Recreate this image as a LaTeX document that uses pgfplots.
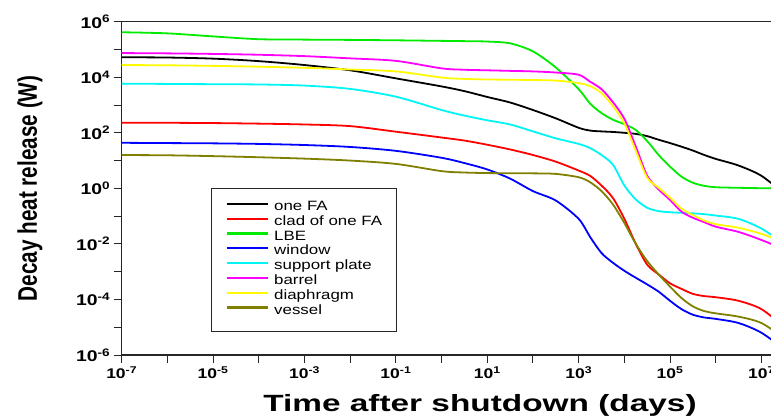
\documentclass[border=0pt]{standalone}
\usepackage{pgfplots}
\usepackage{pgfplotstable}
\pgfplotsset{compat=1.18}
\usepackage{fontspec}
\setmainfont{Liberation Sans}[FakeStretch=1.25]
\newfontfamily\ylabfont{Liberation Sans}

\definecolor{cgreen}{RGB}{0,235,0}
\definecolor{ccyan}{RGB}{0,245,245}
\definecolor{cmag}{RGB}{255,0,255}
\definecolor{cyel}{RGB}{255,250,0}
\definecolor{colive}{RGB}{128,128,0}

\pgfplotstableread{
x        one       clad      lbe       win       sup       bar       dia       ves
1e-7     5.248e4   2.291e2   4.169e5   4.365e1   5.888e3   7.413e4   2.754e4   1.585e1
1e-6     5.129e4   2.291e2   3.802e5   4.266e1   5.754e3   7.244e4   2.692e4   1.549e1
1e-5     4.677e4   2.239e2   2.951e5   4.169e1   5.623e3   6.918e4   2.570e4   1.445e1
1e-4     3.802e4   2.138e2   2.344e5   3.981e1   5.495e3   6.457e4   2.399e4   1.318e1
1e-3     2.754e4   1.995e2   2.265e5   3.631e1   5.012e3   5.754e4   2.188e4   1.175e1
1e-2     1.778e4   1.738e2   2.213e5   3.090e1   3.802e3   4.786e4   1.905e4   1.0e1
1e-1     9.120e3   1.096e2   2.138e5   2.239e1   1.995e3   3.890e4   1.622e4   7.586
1        4.677e3   6.761e1   2.042e5   1.259e1   6.607e2   2.089e4   9.772e3   4.169
3.162    3.162e3   5.248e1   1.995e5   8.128     4.169e2   1.862e4   8.710e3   3.715
10       1.950e3   3.715e1   1.928e5   4.786     2.818e2   1.778e4   8.318e3   3.548
31.62    1.230e3   2.512e1   1.660e5   2.239     1.995e2   1.698e4   8.128e3   3.508
100      6.607e2   1.585e1   8.511e4   7.943e-1  1.122e2   1.622e4   7.943e3   3.467
316.2    3.311e2   9.120     2.239e4   3.631e-1  6.310e1   1.479e4   7.586e3   3.311
1000     1.514e2   4.365     3.715e3   7.943e-2  3.981e1   1.230e4   6.166e3   2.512
1778     1.202e2   2.818     1.122e3   1.778e-2  2.818e1   6.918e3   4.786e3   1.660
3162     1.122e2   1.259     5.129e2   4.677e-3  1.585e1   3.715e3   2.692e3   7.943e-1
5623     1.072e2   4.467e-1  2.951e2   2.089e-3  7.079     1.259e3   9.120e2   2.630e-1
1e4      1.0e2     7.943e-2  2.042e2   1.072e-3  1.259     3.162e2   2.138e2   5.623e-2
17783    9.120e1   1.0e-2    1.259e2   6.026e-4  3.981e-1  3.162e1   2.239e1   1.0e-2
31623    7.586e1   1.778e-3  5.012e1   3.467e-4  1.995e-1  2.818     2.399     2.399e-3
56234    5.623e1   7.943e-4  1.585e1   1.905e-4  1.514e-1  9.120e-1  1.047     7.943e-4
1e5      4.266e1   3.802e-4  6.026     8.913e-5  1.380e-1  3.802e-1  4.571e-1  2.884e-4
177828   3.162e1   2.399e-4  2.630     4.467e-5  1.318e-1  1.445e-1  1.862e-1  1.122e-4
316228   2.291e1   1.585e-4  1.585     2.818e-5  1.259e-1  8.710e-2  1.096e-1  5.623e-5
562341   1.585e1   1.318e-4  1.230     2.239e-5  1.175e-1  6.026e-2  6.918e-2  3.802e-5
1e6      1.148e1   1.202e-4  1.096     1.995e-5  1.047e-1  4.169e-2  5.129e-2  3.162e-5
3.162e6  6.607     8.913e-5  1.047     1.413e-5  7.943e-2  2.692e-2  3.802e-2  2.399e-5
1e7      2.818     4.467e-5  1.012     6.310e-6  3.548e-2  1.380e-2  2.291e-2  1.413e-5
3.162e7  6.310e-1  1.0e-5    1.0       1.585e-6  1.0e-2    6.310e-3  1.122e-2  3.981e-6
}\decay

\begin{document}
\begin{tikzpicture}
\begin{axis}[
  scale only axis, width=685.5pt, height=333.3pt,
  xmode=log, ymode=log, log basis x=10, log basis y=10,
  xmin=1e-7, xmax=1e8, ymin=1e-6, ymax=1e6,
  xtick={1e-7,1e-6,1e-5,1e-4,1e-3,1e-2,1e-1,1,1e1,1e2,1e3,1e4,1e5,1e6,1e7,1e8},
  ytick={1e-6,1e-5,1e-4,1e-3,1e-2,1e-1,1,1e1,1e2,1e3,1e4,1e5,1e6},
  xticklabel={\pgfmathtruncatemacro{\e}{round(\tick)}\ifodd\e\relax 10\textsuperscript{\e}\fi},
  yticklabel={\pgfmathtruncatemacro{\e}{round(\tick)}\ifodd\e\relax\else 10\textsuperscript{\e}\fi},
  xticklabel style={font=\bfseries\fontsize{14}{14}\selectfont},
  yticklabel style={font=\bfseries\fontsize{15.5}{15.5}\selectfont},
  xtick pos=left, ytick pos=left,
  tick align=outside,
  major tick length=8pt, minor tick length=4.5pt,
  axis line style={line width=1.1pt, black!85},
  every tick/.style={line width=1pt, black!85},
  no marks,
  every axis plot/.append style={line width=1.8pt, smooth, tension=0.5},
  legend cell align=left,
  legend image code/.code={\draw[#1,line width=2.3pt] (0pt,4pt) -- (41.7pt,4pt); \path (0pt,0pt) (46.7pt,0pt);},
  legend style={at={(0.1298,0.502)}, anchor=north west, draw=black!85, line width=1pt,
    inner xsep=14.3pt, inner ysep=12.3pt, row sep=0pt,
    font=\fontsize{13.5}{15}\selectfont,
    nodes={inner sep=0pt, text height=10pt, text depth=4.8pt}},
]
\addplot[black]  table[x=x,y=one]  {\decay};
\addlegendentry{one FA}
\addplot[red]    table[x=x,y=clad] {\decay};
\addlegendentry{clad of one FA}
\addplot[cgreen] table[x=x,y=lbe]  {\decay};
\addlegendentry{LBE}
\addplot[blue]   table[x=x,y=win]  {\decay};
\addlegendentry{window}
\addplot[ccyan]  table[x=x,y=sup]  {\decay};
\addlegendentry{support plate}
\addplot[cmag]   table[x=x,y=bar]  {\decay};
\addlegendentry{barrel}
\addplot[cyel]   table[x=x,y=dia]  {\decay};
\addlegendentry{diaphragm}
\addplot[colive] table[x=x,y=ves]  {\decay};
\addlegendentry{vessel}
\coordinate (SW) at (rel axis cs:0,0);
\coordinate (NW) at (rel axis cs:0,1);
\coordinate (ML) at (rel axis cs:0,0.5);
\end{axis}
\node[font=\ylabfont\bfseries\fontsize{23.5}{28}\selectfont, anchor=base, xscale=1.42] at ([shift={(358.3pt,-56.7pt)}]SW) {Time after shutdown (days)};
\node[font=\ylabfont\bfseries\fontsize{20.7}{24}\selectfont, rotate=90, yscale=1.3] at ([xshift=-91.7pt]ML) {Decay heat release (W)};
\pgfresetboundingbox
\useasboundingbox ([shift={(-121.7pt,-65pt)}]SW) rectangle ([shift={(649.3pt,21.7pt)}]NW);
\end{tikzpicture}
\end{document}
